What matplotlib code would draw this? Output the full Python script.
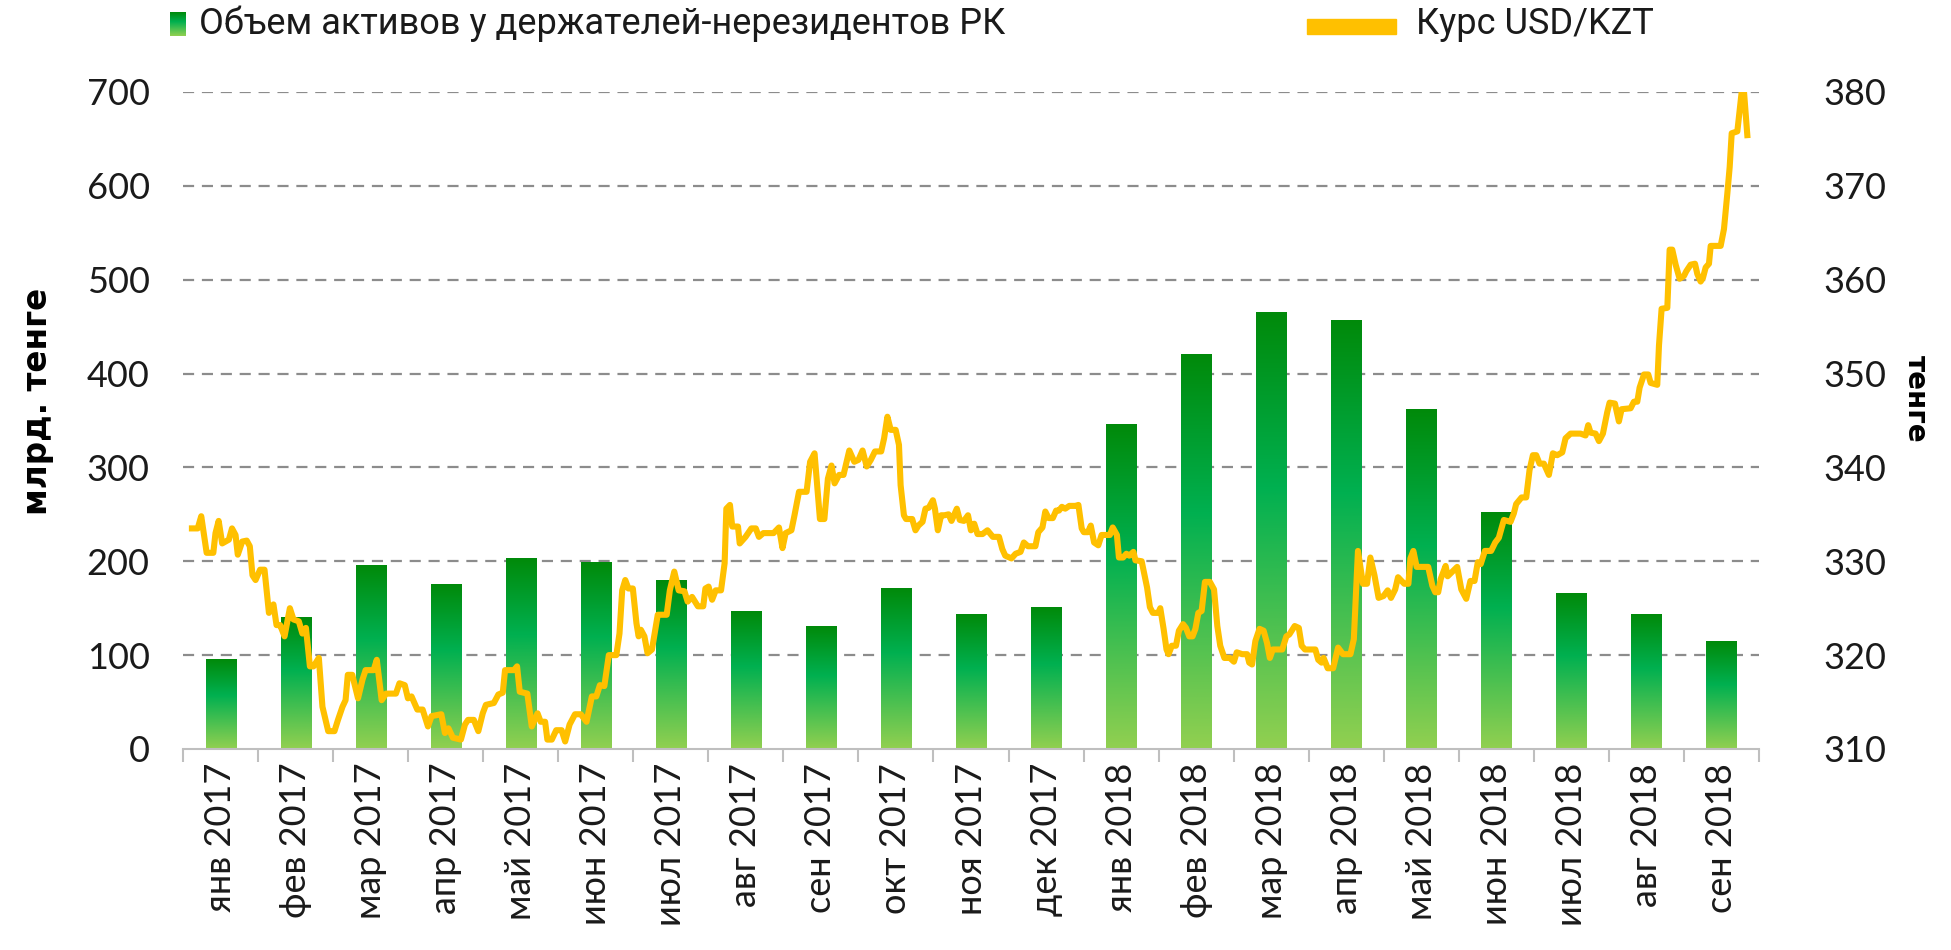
import numpy as np
import matplotlib
matplotlib.use("Agg")
import matplotlib.pyplot as plt
from matplotlib.colors import LinearSegmentedColormap
from matplotlib.patches import Rectangle

# months (categories) and asset volume held by non-residents, bn tenge
months = ['янв 2017', 'фев 2017', 'мар 2017', 'апр 2017', 'май 2017', 'июн 2017',
          'июл 2017', 'авг 2017', 'сен 2017', 'окт 2017', 'ноя 2017', 'дек 2017',
          'янв 2018', 'фев 2018', 'мар 2018', 'апр 2018', 'май 2018', 'июн 2018',
          'июл 2018', 'авг 2018', 'сен 2018']
assets = [95, 140, 195, 175, 203, 199, 180, 147, 131, 171, 143, 151,
          346, 420, 465, 456, 362, 252, 166, 143, 115]

# USD/KZT rate, t = months since 1 Jan 2017
rate_t = [0.119, 0.196, 0.243, 0.315, 0.404, 0.433, 0.475, 0.522, 0.611, 0.653, 0.700, 0.730,
          0.789, 0.849, 0.890, 0.926, 0.967, 1.027, 1.086, 1.145, 1.205, 1.246, 1.294, 1.353,
          1.424, 1.472, 1.543, 1.591, 1.638, 1.691, 1.739, 1.810, 1.858, 1.935, 2.018, 2.065,
          2.125, 2.166, 2.196, 2.255, 2.332, 2.392, 2.433, 2.540, 2.582, 2.647, 2.706, 2.837,
          2.884, 2.955, 2.997, 3.045, 3.122, 3.193, 3.264, 3.312, 3.442, 3.490, 3.537, 3.596,
          3.703, 3.757, 3.798, 3.875, 3.935, 3.994, 4.036, 4.142, 4.202, 4.261, 4.291, 4.409,
          4.451, 4.487, 4.588, 4.647, 4.724, 4.766, 4.825, 4.855, 4.914, 4.973, 5.045, 5.092,
          5.151, 5.223, 5.300, 5.377, 5.448, 5.507, 5.555, 5.614, 5.674, 5.774, 5.816, 5.852,
          5.893, 5.935, 5.994, 6.042, 6.071, 6.101, 6.148, 6.190, 6.249, 6.326, 6.445, 6.487,
          6.546, 6.605, 6.682, 6.724, 6.783, 6.861, 6.932, 6.961, 7.003, 7.050, 7.098, 7.169,
          7.217, 7.240, 7.288, 7.318, 7.395, 7.418, 7.496, 7.573, 7.632, 7.674, 7.733, 7.869,
          7.941, 7.988, 8.030, 8.107, 8.148, 8.208, 8.309, 8.356, 8.415, 8.457, 8.487, 8.546,
          8.593, 8.641, 8.682, 8.742, 8.801, 8.878,
          8.945, 9.000, 9.055, 9.110, 9.165, 9.220, 9.303, 9.342, 9.386, 9.430, 9.496, 9.540,
          9.562, 9.606, 9.634, 9.716, 9.760, 9.799, 9.854, 9.893, 9.937, 9.992, 10.019, 10.058,
          10.102, 10.146, 10.201, 10.240, 10.311, 10.350, 10.405, 10.460, 10.499, 10.543, 10.587,
          10.653, 10.719, 10.791, 10.873, 10.917, 10.956, 11.039, 11.094, 11.160, 11.204, 11.259,
          11.358, 11.397, 11.452, 11.490, 11.534, 11.590, 11.634, 11.672, 11.711, 11.755, 11.810,
          11.893, 11.931, 11.975, 12.003, 12.058, 12.096, 12.140, 12.196, 12.240, 12.350, 12.388,
          12.444, 12.471, 12.526, 12.570, 12.609, 12.664, 12.691, 12.774, 12.813, 12.846, 12.884,
          12.923, 12.994, 13.022, 13.066, 13.105, 13.132, 13.176, 13.231, 13.270, 13.325, 13.364,
          13.408, 13.452, 13.490, 13.529, 13.573, 13.617, 13.683, 13.738, 13.782, 13.821, 13.876,
          13.948, 14.003, 14.041, 14.113, 14.179, 14.207, 14.245, 14.289, 14.344, 14.399, 14.444,
          14.482, 14.521, 14.647, 14.702, 14.741, 14.813, 14.868, 14.906, 14.950, 15.088, 15.127,
          15.171, 15.198, 15.253, 15.325, 15.391, 15.457, 15.556, 15.601, 15.656, 15.722, 15.777,
          15.821, 15.876, 15.931, 15.997, 16.052, 16.096, 16.152, 16.190, 16.273, 16.328, 16.355,
          16.394, 16.438, 16.592, 16.647, 16.686, 16.725, 16.758, 16.824, 16.851, 16.978, 17.033,
          17.099, 17.154, 17.209, 17.253, 17.292, 17.347, 17.430, 17.485,
          17.533, 17.600, 17.689, 17.733, 17.764, 17.836, 17.898, 17.942, 17.987, 18.031, 18.076,
          18.133, 18.200, 18.253, 18.311, 18.378, 18.422, 18.489, 18.622, 18.689, 18.724, 18.756,
          18.822, 18.867, 18.920, 18.978, 19.009, 19.080, 19.133, 19.169, 19.289, 19.333, 19.378,
          19.409, 19.467, 19.524, 19.556, 19.644, 19.667, 19.702, 19.778, 19.809, 19.844, 19.889,
          19.942, 20.000, 20.031, 20.089, 20.147, 20.178, 20.222, 20.253, 20.289, 20.333, 20.356,
          20.489, 20.533, 20.578, 20.609, 20.636, 20.711, 20.769, 20.800, 20.844]
rate = [333.5, 333.5, 334.8, 330.9, 330.9, 333.0, 334.3, 331.9, 332.3, 333.5, 332.8, 330.7,
        332.1, 332.2, 331.6, 328.5, 328.0, 329.1, 329.1, 324.5, 325.4, 323.2, 323.2, 322.0,
        325.0, 323.8, 323.6, 322.3, 322.9, 318.8, 318.8, 319.7, 314.5, 311.9, 311.9, 313.1,
        314.5, 315.2, 317.9, 317.9, 315.4, 317.4, 318.4, 318.4, 319.5, 315.2, 315.9, 315.9,
        317.0, 316.8, 315.4, 315.6, 314.2, 314.2, 312.4, 313.5, 313.7, 311.7, 312.2, 311.2,
        311.0, 312.6, 313.1, 313.1, 311.9, 313.8, 314.7, 314.9, 315.8, 316.0, 318.4, 318.4,
        318.8, 316.1, 315.9, 312.4, 313.8, 312.9, 312.9, 311.0, 311.0, 312.0, 312.0, 310.8,
        312.6, 313.7, 313.7, 312.9, 315.6, 315.6, 316.8, 316.7, 320.0, 320.0, 322.3, 326.9,
        328.0, 327.1, 327.1, 323.4, 322.0, 322.7, 322.0, 320.2, 320.6, 324.3, 324.3, 326.9,
        328.9, 326.9, 326.8, 325.7, 326.2, 325.2, 325.2, 327.1, 327.3, 325.9, 326.9, 326.9,
        329.8, 335.6, 336.0, 333.7, 333.7, 331.9, 332.6, 333.5, 333.5, 332.6, 333.0, 333.0,
        333.6, 331.4, 333.0, 333.3, 334.9, 337.4, 337.4, 340.6, 341.5, 337.4, 334.5, 334.5,
        338.8, 340.2, 338.3, 339.2, 339.2, 341.8,
        340.6, 340.8, 341.8, 340.1, 340.8, 341.7, 341.7, 343.1, 345.4, 344.0, 344.0, 342.4,
        338.1, 334.9, 334.5, 334.5, 333.3, 333.8, 334.2, 335.6, 335.7, 336.5, 335.6, 333.3,
        334.9, 334.9, 335.0, 334.3, 335.6, 334.4, 334.3, 334.9, 333.3, 334.0, 332.9,
        332.9, 333.3, 332.6, 332.6, 331.3, 330.6, 330.3, 330.8, 331.0, 332.0, 331.6,
        331.6, 333.1, 333.6, 335.3, 334.6, 334.6, 335.4, 335.4, 335.8, 335.6, 335.9,
        335.9, 336.0, 333.5, 333.1, 333.1, 333.8, 332.0, 331.7, 332.8, 332.8, 333.6,
        332.8, 330.4, 330.4, 330.8, 330.6, 331.0, 330.1, 330.0, 328.5, 327.2, 325.1,
        324.5, 324.5, 325.0, 322.8, 320.6, 320.1, 321.0, 321.0, 322.6, 323.3, 322.9,
        322.0, 322.0, 322.8, 324.5, 324.7, 327.8, 327.8, 327.0, 323.1, 321.0, 319.7,
        319.7, 319.3, 320.3, 320.1, 320.1, 319.2, 319.0, 321.5, 322.8, 322.6, 321.3,
        319.7, 320.6, 320.6, 322.0, 322.2, 323.1, 322.9, 321.0, 320.6, 320.6, 319.5,
        319.2, 319.7, 318.6, 318.6, 320.8, 320.1, 320.1, 321.7, 331.1, 327.6, 327.6,
        330.4, 328.5, 326.1, 326.3, 326.9, 326.1, 327.0, 328.3, 327.6, 327.6, 330.3,
        331.1, 329.4, 329.4, 327.4, 326.7, 326.7, 328.1, 329.5, 328.4, 329.4, 327.0,
        326.0, 327.9, 327.9, 329.9, 329.7, 331.1, 331.1, 332.0,
        332.5, 334.4, 334.2, 335.1, 336.1, 336.8, 336.8, 339.7, 341.3, 341.3, 340.4,
        340.4, 339.2, 341.5, 341.3, 341.6, 343.1, 343.6, 343.6, 343.4, 344.5, 343.7,
        343.6, 342.8, 343.6, 345.9, 346.9, 346.8, 344.9, 346.2, 346.3, 347.0, 347.0,
        348.5, 349.9, 349.9, 349.0, 348.8, 353.0, 356.9, 357.0, 363.2, 363.2, 361.6,
        360.1, 360.4, 360.9, 361.6, 361.7, 360.6, 359.8, 360.2, 361.3, 361.7, 363.6,
        363.6, 365.4, 369.2, 372.0, 375.6, 375.8, 380.0, 380.0, 375.4]

left_ticks = [0, 100, 200, 300, 400, 500, 600, 700]
right_ticks = [310, 320, 330, 340, 350, 360, 370, 380]

green = LinearSegmentedColormap.from_list(
    'bars', [(0.0, '#92D050'), (0.6, '#00B050'), (1.0, '#008A0A')])
grad = np.linspace(0, 1, 256).reshape(-1, 1)
yellow = '#FFC000'
text_col = '#1A1A1A'
tick_font = dict(family='Lato', weight='normal', size=26)

fig = plt.figure(figsize=(19.51, 9.5), dpi=100)
ax = fig.add_axes([0.0938, 0.2116, 0.8078, 0.6916])
ax2 = ax.twinx()

x = np.arange(len(months))
bars = ax.bar(x, assets, width=0.4, color='none', zorder=2)
for b in bars:
    ax.imshow(grad, extent=[b.get_x(), b.get_x() + b.get_width(), 0, b.get_height()],
              origin='lower', cmap=green, aspect='auto', zorder=2)

ax.set_xlim(-0.5, len(months) - 0.5)
ax.set_ylim(0, 700)
ax.set_yticks(left_ticks)
for v in left_ticks[1:]:
    ax.axhline(v, color='#8C8C8C', lw=1.6, ls=(0, (5, 3.5)), zorder=1)

# category boundary ticks, labels at centres
ax.set_xticks(np.arange(-0.5, len(months), 1))
ax.set_xticklabels([])
ax.set_xticks(x, minor=True)
ax.set_xticklabels(months, minor=True, rotation=90, fontdict=tick_font)
ax.tick_params(axis='x', which='major', length=9, width=1.5, color='#BFBFBF')
ax.tick_params(axis='x', which='minor', length=0, pad=10, labelcolor=text_col)
ax.tick_params(axis='y', length=0, pad=24, labelcolor=text_col)
for lab in ax.get_yticklabels():
    lab.set_fontproperties(tick_font)

ax2.plot(np.array(rate_t) - 0.5, rate, color=yellow, lw=4.4, solid_joinstyle='round', zorder=3)
ax2.set_ylim(310, 380)
ax2.set_yticks(right_ticks)
ax2.tick_params(axis='y', length=0, pad=46, labelcolor=text_col)
for lab in ax2.get_yticklabels():
    lab.set_fontproperties(tick_font)

for s in ['top', 'left', 'right']:
    ax.spines[s].set_visible(False)
ax.spines['bottom'].set_color('#BFBFBF')
ax.spines['bottom'].set_linewidth(1.5)
for s in ax2.spines.values():
    s.set_visible(False)

fig.text(0.019, 0.578, 'млрд. тенге', rotation=90, ha='center', va='center',
         fontsize=23.5, fontweight='bold')
fig.text(0.982, 0.58, 'тенге', rotation=270, ha='center', va='center',
         fontsize=20, fontweight='bold')

# legend
lax = fig.add_axes([170 / 1951, 1 - 36 / 950, 16 / 1951, 24 / 950])
lax.imshow(grad, origin='lower', cmap=green, aspect='auto')
lax.axis('off')
fig.text(199 / 1951, 1 - 24 / 950, 'Объем активов у держателей-нерезидентов РК',
         ha='left', va='center', family='Roboto', fontsize=26, color=text_col)
fig.patches.append(Rectangle((1307 / 1951, 1 - 34 / 950), 89 / 1951, 15 / 950,
                             transform=fig.transFigure, color=yellow))
fig.text(1416 / 1951, 1 - 24 / 950, 'Курс USD/KZT',
         ha='left', va='center', family='Roboto', fontsize=26, color=text_col)

fig.savefig('out.png', dpi=100)
